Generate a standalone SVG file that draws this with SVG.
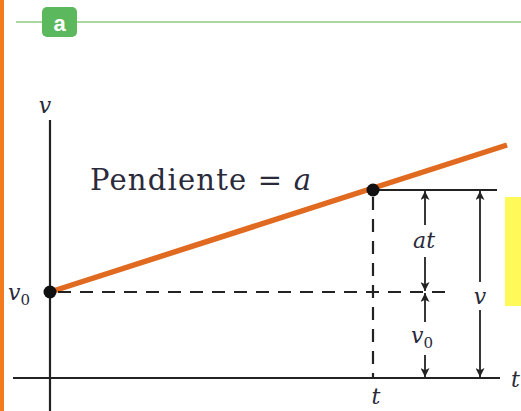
<svg xmlns="http://www.w3.org/2000/svg" width="521" height="411" viewBox="0 0 521 411">
<defs>
<marker id="ah" viewBox="0 0 10 10" refX="10" refY="5" markerWidth="9" markerHeight="9" markerUnits="userSpaceOnUse" orient="auto">
<path d="M0,0 L10,5 L0,10 L2.5,5 Z" fill="#222"/>
</marker>
</defs>
<style>
.ax{stroke:#222;stroke-width:2.2;fill:none}
.dash{stroke:#222;stroke-width:2.2;stroke-dasharray:13,9;fill:none}
.dim{stroke:#222;stroke-width:1.8;fill:none;marker-end:url(#ah)}
.lbl{font-family:"DejaVu Serif","Liberation Serif",serif;font-style:italic;fill:#2a2a3a}
</style>
<rect width="521" height="411" fill="#fff"/>
<rect x="0" y="0" width="4" height="411" fill="#f47a20"/>
<line x1="16" y1="22" x2="521" y2="22" stroke="#a9d9a0" stroke-width="2"/>
<g id="badge">
<rect x="42" y="7" width="35" height="30" rx="5" fill="#5cb85c"/>
<text x="59.5" y="31" text-anchor="middle" font-family="Liberation Sans,sans-serif" font-weight="bold" font-size="22" fill="#fff">a</text>
</g>
<rect x="505" y="197" width="16" height="109" fill="#fff95a"/>
<g id="axes">
<line class="ax" x1="50" y1="120" x2="50" y2="411"/>
<line class="ax" x1="13" y1="378" x2="500" y2="378"/>
<text class="lbl" x="45" y="113" font-size="22" text-anchor="middle">v</text>
<text class="lbl" x="511" y="387" font-size="22">t</text>
<text class="lbl" x="376" y="404" font-size="22" text-anchor="middle">t</text>
</g>
<g id="connectors">
<line x1="50" y1="292" x2="507" y2="145" stroke="#e06a1f" stroke-width="5.5"/>
<line class="dash" x1="58" y1="292" x2="445" y2="292"/>
<line class="dash" x1="373" y1="197" x2="373" y2="378"/>
<line class="ax" x1="373" y1="190" x2="497" y2="190"/>
<line class="dim" x1="425" y1="225" x2="425" y2="191"/>
<line class="dim" x1="425" y1="257" x2="425" y2="291"/>
<line class="dim" x1="425" y1="322" x2="425" y2="293"/>
<line class="dim" x1="425" y1="355" x2="425" y2="377"/>
<line class="dim" x1="480" y1="282" x2="480" y2="191"/>
<line class="dim" x1="480" y1="310" x2="480" y2="377"/>
</g>
<g id="points">
<circle cx="50" cy="292" r="6.5" fill="#111"/>
<circle cx="373" cy="190" r="6.5" fill="#111"/>
</g>
<g id="labels">
<text x="90" y="190" font-family="'DejaVu Serif','Liberation Serif',serif" font-size="29" letter-spacing="1.2" fill="#2a2a3a">Pendiente = <tspan font-style="italic" letter-spacing="0">a</tspan></text>
<text class="lbl" x="8" y="300" font-size="22">v<tspan font-size="15" dy="5" font-style="normal">0</tspan></text>
<text class="lbl" x="424" y="248" font-size="22" text-anchor="middle">at</text>
<text class="lbl" x="422" y="343" font-size="22" text-anchor="middle">v<tspan font-size="15" dy="5" font-style="normal">0</tspan></text>
<text class="lbl" x="480" y="304" font-size="22" text-anchor="middle">v</text>
</g>
</svg>
